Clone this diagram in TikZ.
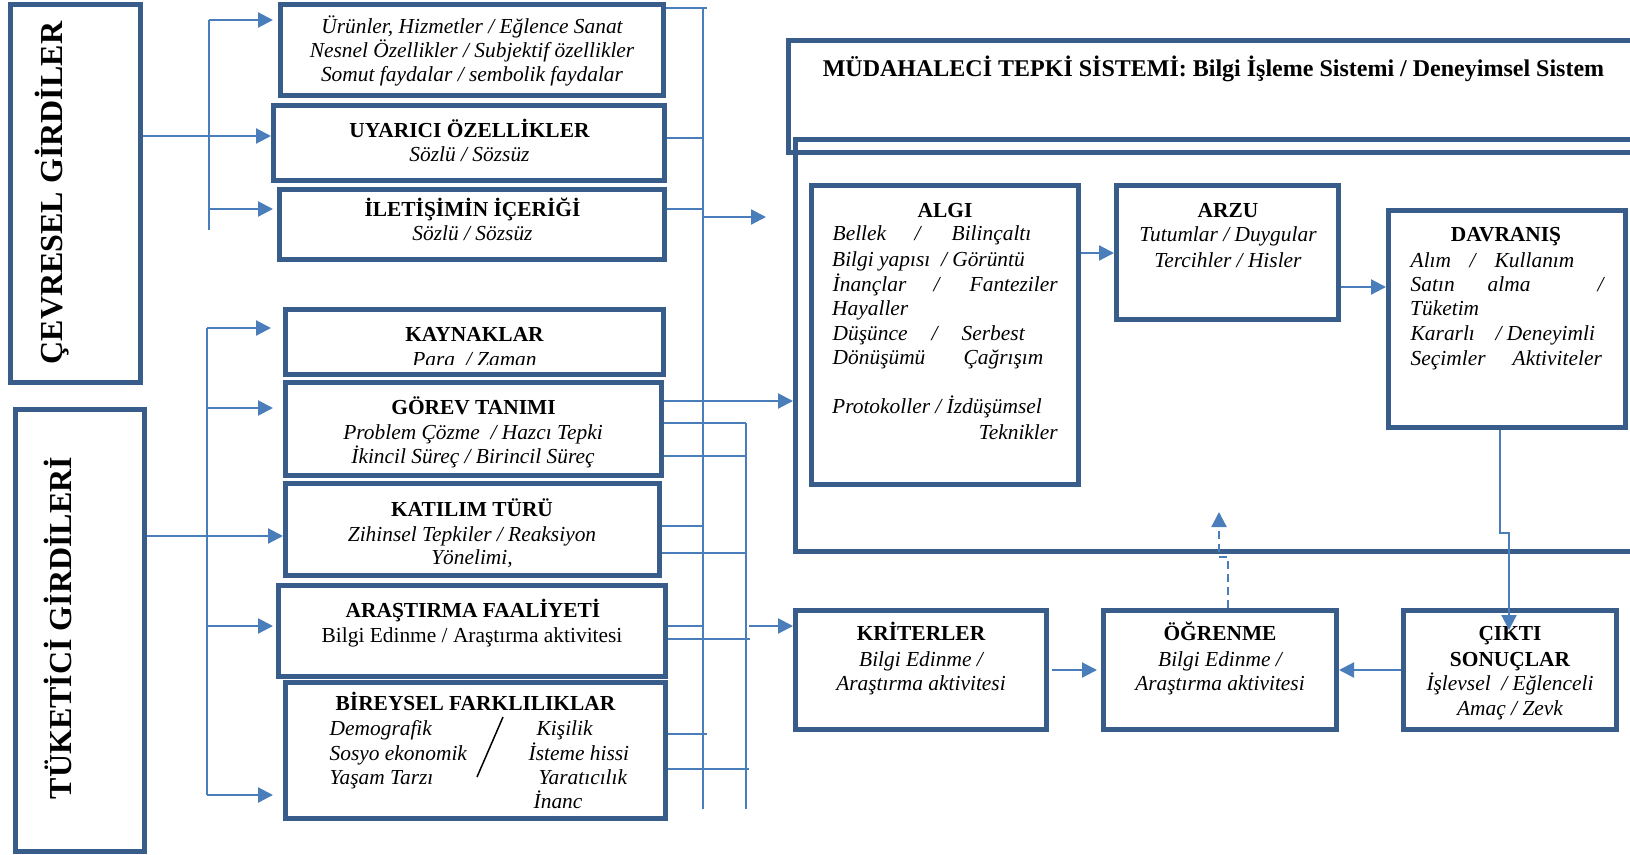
\documentclass[tikz,border=0pt]{standalone}
\usepackage{fontspec}
\setmainfont{Liberation Serif}
\usetikzlibrary{arrows.meta,calc}
\definecolor{boxc}{HTML}{385D8A}
\definecolor{linec}{HTML}{4A7EBB}
\newcommand{\fsz}{\fontsize{21.4}{25}\selectfont}
\newcommand{\pl}[2]{\makebox[0pt][l]{\hspace*{#1pt}#2}}
\newcommand{\rp}[2]{\makebox[0pt][l]{\makebox[#1pt][r]{#2}}}
\begin{document}
\begin{tikzpicture}[x=1pt,y=-1pt,
  box/.style={draw=boxc,line width=5pt,fill=white,inner sep=0pt,outer sep=2.5pt},
  bigbox/.style={draw=boxc,line width=5pt,inner sep=0pt,outer sep=2.5pt},
  tb/.style={inner sep=0pt,font=\fsz\bfseries,anchor=mid},
  ti/.style={inner sep=0pt,font=\fsz\itshape,anchor=mid},
  tr/.style={inner sep=0pt,font=\fsz,anchor=mid},
  til/.style={ti,anchor=mid west},
  vt/.style={inner sep=0pt,font=\fontsize{32}{34}\selectfont\bfseries,rotate=90},
  conn/.style={draw=linec,line width=2.2pt},
  arr/.style={conn,-{Triangle[length=15pt,width=15pt]}}]
\useasboundingbox (0,0) rectangle (1630,854);

% ---------- boxes ----------
\node[box,minimum width=130pt,minimum height=378pt] (cev) at (75.5,193.5) {};
\node[box,minimum width=129pt,minimum height=442pt] (tuk) at (80,630.5) {};
\node[box,minimum width=383pt,minimum height=91pt] (b1) at (472,50) {};
\node[box,minimum width=391pt,minimum height=75pt] (uy) at (469,143) {};
\node[box,minimum width=385pt,minimum height=70pt] (il) at (472,224.5) {};
\node[box,minimum width=378pt,minimum height=65pt] (kay) at (474.5,342) {};
\node[box,minimum width=376pt,minimum height=93pt] (gor) at (473.5,429) {};
\node[box,minimum width=374pt,minimum height=92pt] (kat) at (472.5,529.5) {};
\node[box,minimum width=387pt,minimum height=91pt] (ara) at (472,631) {};
\node[box,minimum width=380pt,minimum height=136pt] (bir) at (475.5,750.5) {};

\node[bigbox,minimum width=889pt,minimum height=112pt] (mud) at (1233,96.5) {};
\node[bigbox,minimum width=882pt,minimum height=412pt] (inner) at (1236.5,345.5) {};
\node[box,minimum width=267pt,minimum height=299pt] (algi) at (945,335) {};
\node[box,minimum width=222pt,minimum height=134pt] (arzu) at (1227.5,252.5) {};
\node[box,minimum width=237pt,minimum height=217pt] (dav) at (1507,319) {};
\node[box,minimum width=251pt,minimum height=119pt] (krit) at (921,670) {};
\node[box,minimum width=233pt,minimum height=119pt] (ogr) at (1220,670) {};
\node[box,minimum width=213pt,minimum height=119pt] (cikti) at (1510,670) {};

% ---------- texts ----------
\node[vt] (cevt) at (52,193) {ÇEVRESEL GİRDİLER};
\node[vt] (tukt) at (58,628) {TÜKETİCİ GİRDİLERİ};

\node[ti] (b1a) at (472,31) {Ürünler, Hizmetler / Eğlence Sanat};
\node[ti] (b1b) at (472,55) {Nesnel Özellikler / Subjektif özellikler};
\node[ti] (b1c) at (472,79) {Somut faydalar / sembolik faydalar};

\node[tb] (uyt) at (469.5,135) {UYARICI ÖZELLİKLER};
\node[ti] (uys) at (469.5,159) {Sözlü / Sözsüz};

\node[tb] (ilt) at (472.5,214) {İLETİŞİMİN İÇERİĞİ};
\node[ti] (ils) at (472.5,238) {Sözlü / Sözsüz};

\node[tb] (kayt) at (474.5,339) {KAYNAKLAR};
\begin{scope}
\clip (286,320) rectangle (664,364);
\node[ti] (kays) at (474.5,364) {Para\ \ / Zaman};
\end{scope}

\node[tb] (gort) at (473.5,412) {GÖREV TANIMI};
\node[ti] (gora) at (473,437) {Problem Çözme\ \ / Hazcı Tepki};
\node[ti] (gorb) at (473,461) {İkincil Süreç / Birincil Süreç};

\node[tb] (katt) at (472,514) {KATILIM TÜRÜ};
\node[ti] (kata) at (472,539) {Zihinsel Tepkiler / Reaksiyon};
\node[ti] (katb) at (472,562) {Yönelimi,};

\node[tb] (arat) at (473,615) {ARAŞTIRMA FAALİYETİ};
\node[tr] (aras) at (472,640) {Bilgi Edinme / Araştırma aktivitesi};

\node[tb] (birt) at (475.5,708) {BİREYSEL FARKLILIKLAR};
\node[til] (bira) at (329,733) {\pl{0}{Demografik}\pl{207}{Kişilik}};
\node[til] (birb) at (329,758) {\pl{0}{Sosyo ekonomik}\pl{199}{İsteme hissi}};
\node[til] (birc) at (329,782) {\pl{0}{Yaşam Tarzı}\pl{209}{Yaratıcılık}};
\node[til] (bird) at (329,806) {\pl{204}{İnanc}};
\draw[black,line width=1.5pt] (503,717) -- (477,777);

\node[tb,font=\fontsize{24}{28}\selectfont\bfseries] (mudt) at (1213.5,74) {MÜDAHALECİ TEPKİ SİSTEMİ: Bilgi İşleme Sistemi / Deneyimsel Sistem};

\node[tb] (algit) at (945,215) {ALGI};
\node[til] (al1) at (832,238) {\pl{0}{Bellek}\pl{82}{/}\pl{119}{Bilinçaltı}};
\node[til] (al2) at (832,264) {Bilgi yapısı\ \ / Görüntü};
\node[til] (al3) at (832,289) {\pl{0}{İnançlar}\pl{101}{/}\rp{225}{Fanteziler}};
\node[til] (al4) at (832,313) {Hayaller};
\node[til] (al5) at (832,338) {\pl{0}{Düşünce}\pl{99}{/}\pl{129}{Serbest}};
\node[til] (al6) at (832,362) {\pl{0}{Dönüşümü}\pl{131}{Çağrışım}};
\node[til] (al7) at (832,411) {Protokoller / İzdüşümsel};
\node[til] (al8) at (832,437) {\rp{225}{Teknikler}};

\node[tb] (arzut) at (1228,215) {ARZU};
\node[ti] (arzua) at (1228,239) {Tutumlar / Duygular};
\node[ti] (arzub) at (1228,265) {Tercihler / Hisler};

\node[tb] (davt) at (1506,239) {DAVRANIŞ};
\node[til] (dv1) at (1410,265) {\pl{0}{Alım}\pl{59}{/}\pl{84}{Kullanım}};
\node[til] (dv2) at (1410,289) {\pl{0}{Satın}\pl{77}{alma}\pl{187}{/}};
\node[til] (dv3) at (1410,313) {Tüketim};
\node[til] (dv4) at (1410,338) {\pl{0}{Kararlı}\pl{85}{/ Deneyimli}};
\node[til] (dv5) at (1410,363) {\pl{0}{Seçimler}\pl{102}{Aktiviteler}};

\node[tb] (kritt) at (921,638) {KRİTERLER};
\node[ti] (krita) at (921,664) {Bilgi Edinme /};
\node[ti] (kritb) at (921,688) {Araştırma aktivitesi};

\node[tb] (ogrt) at (1220,638) {ÖĞRENME};
\node[ti] (ogra) at (1220,664) {Bilgi Edinme /};
\node[ti] (ogrb) at (1220,688) {Araştırma aktivitesi};

\node[tb] (cikt) at (1510,638) {ÇIKTI};
\node[tb] (ciks) at (1510,664) {SONUÇLAR};
\node[ti] (cika) at (1510,688) {İşlevsel\ \ / Eğlenceli};
\node[ti] (cikb) at (1510,713) {Amaç / Zevk};

% ---------- connectors: left ----------
\coordinate (ta) at (209,20);
\coordinate (tz) at (209,230);
\coordinate (tc) at (209,209);
\draw[conn] (ta) -- (tz);
\draw[arr,shorten >=5pt] (ta) -- (ta -| b1.west);
\draw[arr] (cev.east |- 0,136) -- (uy.west |- 0,136);
\draw[arr,shorten >=4pt] (tc) -- (tc -| il.west);

\coordinate (ba) at (207,328);
\coordinate (bb) at (207,408);
\coordinate (bc) at (207,626);
\coordinate (bz) at (207,795);
\draw[conn] (ba) -- (bz);
\draw[arr,shorten >=12pt] (ba) -- (ba -| kay.west);
\draw[arr,shorten >=10pt] (bb) -- (bb -| gor.west);
\draw[arr] (tuk.east |- 0,536) -- (kat.west |- 0,536);
\draw[arr,shorten >=3pt] (bc) -- (bc -| ara.west);
\draw[arr,shorten >=10pt] (bz) -- (bz -| bir.west);

% ---------- connectors: bus ----------
\coordinate (v1a) at (703,8);
\coordinate (v1z) at (703,809);
\coordinate (v2a) at (746,423);
\coordinate (v2z) at (746,809);
\coordinate (v1o) at (703,217);
\coordinate (v1e) at (766,217);
\coordinate (v2o) at (749,626);
\draw[conn] (v1a) -- (v1z);
\draw[conn] (v2a) -- (v2z);
\draw[conn] (b1.east |- 0,8) -- (707,8);
\draw[conn] (uy.east |- 0,138) -- (703,138);
\draw[conn] (il.east |- 0,209) -- (703,209);
\draw[arr] (v1o) -- (v1e);
\draw[arr] (gor.east |- 0,401) -- (inner.west |- 0,401);
\draw[conn] (gor.east |- 0,423) -- (746,423);
\draw[conn] (gor.east |- 0,456) -- (746,456);
\draw[conn] (kat.east |- 0,526) -- (703,526);
\draw[conn] (kat.east |- 0,553) -- (746,553);
\draw[conn] (ara.east |- 0,626) -- (703,626);
\draw[conn] (ara.east |- 0,639) -- (750,639);
\draw[arr] (v2o) -- (v2o -| krit.west);
\draw[conn] (bir.east |- 0,734) -- (707,734);
\draw[conn] (bir.east |- 0,769) -- (749,769);

% ---------- connectors: right ----------
\draw[arr] (algi.east |- 0,253) -- (arzu.west |- 0,253);
\draw[arr] (arzu.east |- 0,287) -- (dav.west |- 0,287);
\draw[arr,shorten >=-22pt] (dav.south -| 1500,0) -- (1500,533) -- (1509,533) -- (cikti.north -| 1509,0);
\draw[arr,shorten <=3pt,shorten >=4pt] (krit.east) -- (ogr.west);
\draw[arr] (cikti.west) -- (ogr.east);
\draw[arr,dash pattern=on 8pt off 5pt] (ogr.north -| 1228,0) -- (1228,557) -- (1219,557) -- (1219,512);
\end{tikzpicture}
\end{document}
